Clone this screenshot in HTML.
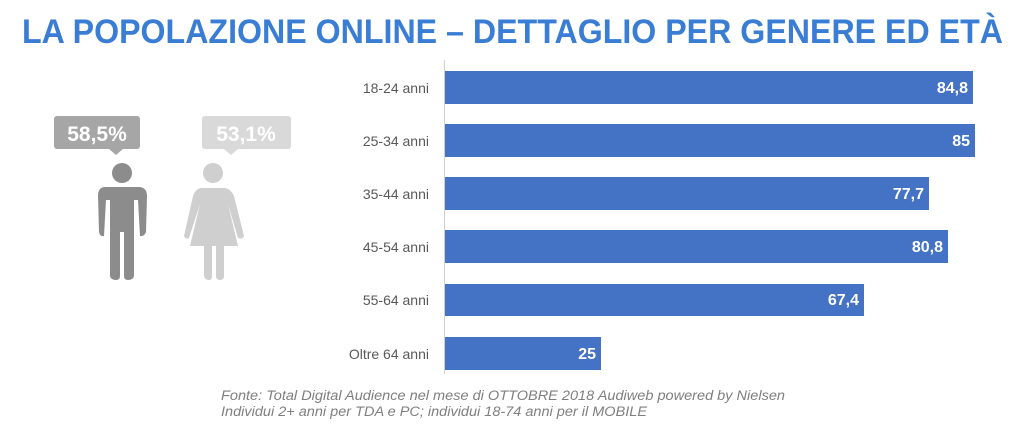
<!DOCTYPE html>
<html><head><meta charset="utf-8"><style>
html,body{margin:0;padding:0;background:#fff;}
svg{display:block;}
</style></head><body>
<svg width="1024" height="428" viewBox="0 0 1024 428" xmlns="http://www.w3.org/2000/svg" font-family="Liberation Sans, sans-serif">
<text x="22" y="43" font-size="34" font-weight="bold" fill="#3a7dd4" textLength="981" lengthAdjust="spacingAndGlyphs">LA POPOLAZIONE ONLINE – DETTAGLIO PER GENERE ED ETÀ</text>
<line x1="444.5" y1="60" x2="444.5" y2="374" stroke="#d0d0d0" stroke-width="1"/>
<g fill="#4472c4">
<rect x="445" y="71" width="528" height="33"/>
<rect x="445" y="124" width="530" height="33"/>
<rect x="445" y="177" width="484" height="33"/>
<rect x="445" y="230" width="503" height="33"/>
<rect x="445" y="284" width="419" height="32"/>
<rect x="445" y="337" width="156" height="33"/>
</g>
<g fill="#fff" font-size="16" font-weight="bold" text-anchor="end">
<text x="968" y="93">84,8</text>
<text x="970" y="146">85</text>
<text x="924" y="199">77,7</text>
<text x="943" y="252">80,8</text>
<text x="859" y="305">67,4</text>
<text x="596" y="359">25</text>
</g>
<g fill="#595959" font-size="14" text-anchor="end">
<text x="429" y="93">18-24 anni</text>
<text x="429" y="146">25-34 anni</text>
<text x="429" y="199">35-44 anni</text>
<text x="429" y="252">45-54 anni</text>
<text x="429" y="305">55-64 anni</text>
<text x="429" y="359">Oltre 64 anni</text>
</g>
<!-- man -->
<rect x="54" y="116" width="86" height="33" rx="3" fill="#a6a6a6"/>
<polygon points="109,149 123,149 116,155" fill="#a6a6a6"/>
<text x="97" y="141" font-size="21" font-weight="bold" fill="#fff" text-anchor="middle">58,5%</text>
<g fill="#8c8c8c">
<circle cx="122" cy="173" r="10"/>
<path d="M104,187 Q98,188 98,196 L99,232 Q100,237 104,236 L106,200 L110,200 L110,276 Q111,280 116,280 Q120,280 120,276 L120,232 L124,232 L124,276 Q124,280 128,280 Q133,280 134,276 L134,200 L138,200 L140,236 Q144,237 146,232 L147,196 Q147,188 140,187 Z"/>
</g>
<!-- woman -->
<rect x="202" y="116" width="89" height="33" rx="3" fill="#d9d9d9"/>
<polygon points="224,149 238,149 231,155" fill="#d9d9d9"/>
<text x="246" y="141" font-size="21" font-weight="bold" fill="#fff" text-anchor="middle">53,1%</text>
<g fill="#cfcfcf">
<circle cx="213" cy="173" r="10"/>
<path d="M202,188 Q196,188 193,196 L184,236 Q186,240 189,238 L200,204 L190,246 L204,246 L204,276 Q205,280 209,280 Q212,280 212,276 L212,246 L216,246 L216,276 Q216,280 220,280 Q224,280 224,276 L224,246 L238,246 L228,204 L238,238 Q242,240 244,236 L234,196 Q230,188 224,188 Z"/>
</g>
<g fill="#7f7f7f" font-size="13.5" font-style="italic">
<text x="221" y="400" textLength="564" lengthAdjust="spacingAndGlyphs">Fonte: Total Digital Audience nel mese di OTTOBRE 2018 Audiweb powered by Nielsen</text>
<text x="221" y="416" textLength="426" lengthAdjust="spacingAndGlyphs">Individui 2+ anni per TDA e PC; individui 18-74 anni per il MOBILE</text>
</g>
</svg>
</body></html>
